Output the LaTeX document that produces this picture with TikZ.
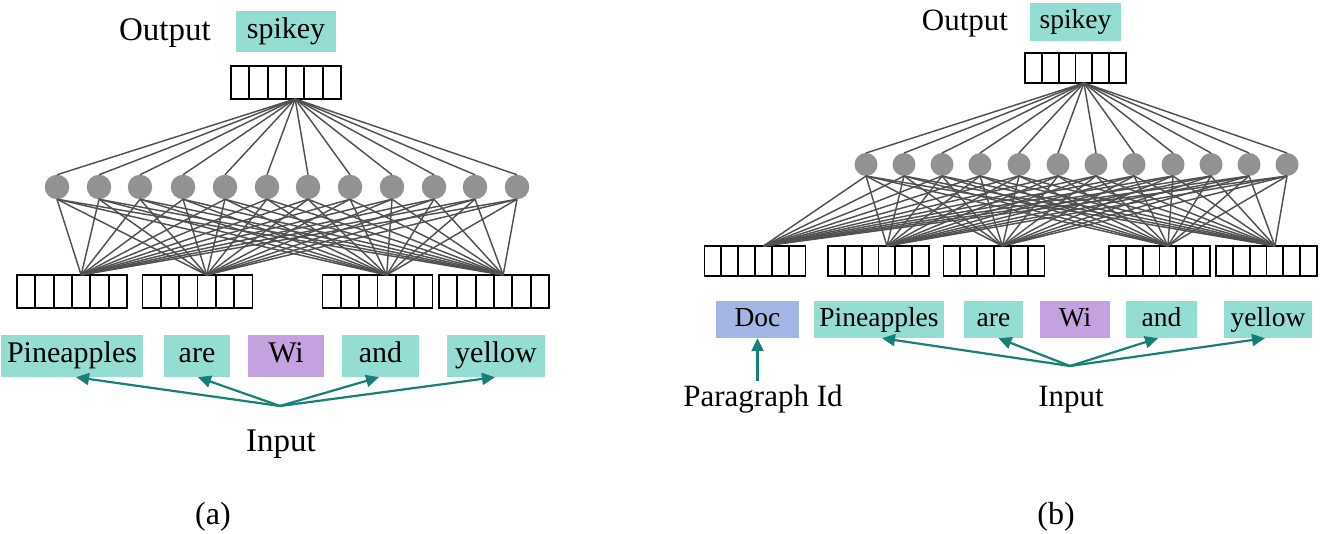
\documentclass[tikz,border=0pt]{standalone}
\usepackage{fontspec}
\setmainfont{Liberation Serif}
\usetikzlibrary{arrows.meta,calc}
\definecolor{tealbox}{RGB}{147,221,211}
\definecolor{purplebox}{RGB}{196,162,224}
\definecolor{docbox}{RGB}{163,181,227}
\definecolor{arrowteal}{RGB}{22,128,118}
\definecolor{neuroncol}{RGB}{146,146,146}
\definecolor{wirecol}{RGB}{80,80,80}
\begin{document}
\begin{tikzpicture}[x=1pt,y=-1pt,
  veca/.style={draw, line width=1.8pt, minimum width=110pt, minimum height=33pt, inner sep=0pt, outer sep=0pt},
  vecb/.style={draw, line width=1.8pt, minimum width=101pt, minimum height=30pt, inner sep=0pt, outer sep=0pt},
  cell/.style={line width=1.8pt},
  neurona/.style={circle, fill=neuroncol, minimum size=24.5pt, inner sep=0pt, outer sep=0pt},
  neuronb/.style={circle, fill=neuroncol, minimum size=23pt, inner sep=0pt, outer sep=0pt},
  wire/.style={draw=wirecol, line width=1.45pt},
  worda/.style={fill=tealbox, inner sep=0pt, minimum height=42pt, text height=21pt, text depth=7.5pt, font=\fontsize{30}{36}\selectfont},
  wordb/.style={fill=tealbox, inner sep=0pt, minimum height=37pt, text height=19.8pt, text depth=6pt, font=\fontsize{27.5}{33}\selectfont},
  labela/.style={inner sep=0pt, font=\fontsize{33}{40}\selectfont},
  labelb/.style={inner sep=0pt, font=\fontsize{31}{37}\selectfont},
  inarrow/.style={draw=arrowteal, line width=2.2pt, -{Triangle[length=13pt,width=12pt]}}
]
\useasboundingbox (0,0) rectangle (1321,534);

% ================= panel (a) =================
\node[labela, anchor=base] (outa) at (165,41) {Output};
\node[worda, minimum width=100pt, minimum height=41pt] (spa) at (286,31.5) {spikey};
\node[veca] (ta) at (286,82.5) {};
\node[veca] (a1) at (72,291.5) {};
\node[veca] (a2) at (197.5,291.5) {};
\node[veca] (a3) at (377.5,291.5) {};
\node[veca] (a4) at (494,291.5) {};
\foreach \v in {ta,a1,a2,a3,a4} {
  \foreach \i in {1,...,5}
    \draw[cell] ($(\v.north west)!\i/6!(\v.north east)$) -- ($(\v.south west)!\i/6!(\v.south east)$);
}
\coordinate (ta-c) at ($(ta.south west)!3.5/6!(ta.south east)$);
\foreach \v in {a1,a2,a3,a4}
  \coordinate (\v-c) at ($(\v.north west)!3.5/6!(\v.north east)$);

\foreach \x [count=\k] in {57,99,140,183,225,267,308,350,392,434,475,517}
  \node[neurona] (na\k) at (\x,187) {};
\foreach \k in {1,...,12} {
  \draw[wire] (na\k.north) -- (ta-c);
  \foreach \v in {a1,a2,a3,a4}
    \draw[wire] (na\k.south) -- (\v-c);
}

\node[worda, minimum width=142pt] (pa) at (72,356) {Pineapples};
\node[worda, minimum width=66pt] (ara) at (197,356) {are};
\node[worda, minimum width=76pt, fill=purplebox] (wia) at (286,356) {Wi};
\node[worda, minimum width=77pt] (anda) at (380.5,356) {and};
\node[worda, minimum width=98pt] (yea) at (496,356) {yellow};

\coordinate (ia) at (280,406);
\draw[inarrow] (ia) -- ($(pa.south)+(4,0)$);
\draw[inarrow] (ia) -- ($(ara.south)+(1,0)$);
\draw[inarrow] (ia) -- ($(anda.south)+(-1.5,0)$);
\draw[inarrow] (ia) -- ($(yea.south)+(-1,0)$);
\node[labela, anchor=base] (inpa) at (281,451) {Input};

\node[labela, font=\fontsize{32}{38}\selectfont] (capa) at (213,517) {(a)};

% ================= panel (b) =================
\node[labelb, anchor=base] (outb) at (965,31) {Output};
\node[wordb, minimum width=91pt, minimum height=38pt] (spb) at (1075.5,22) {spikey};
\node[vecb] (tb) at (1075.5,68) {};
\node[vecb] (b1) at (755,261) {};
\node[vecb] (b2) at (878.5,261) {};
\node[vecb] (b3) at (994,261) {};
\node[vecb] (b4) at (1159.5,261) {};
\node[vecb] (b5) at (1266.5,261) {};
\foreach \v in {tb,b1,b2,b3,b4,b5} {
  \foreach \i in {1,...,5}
    \draw[cell] ($(\v.north west)!\i/6!(\v.north east)$) -- ($(\v.south west)!\i/6!(\v.south east)$);
}
\coordinate (tb-c) at ($(tb.south west)!3.5/6!(tb.south east)$);
\foreach \v in {b1,b2,b3,b4,b5}
  \coordinate (\v-c) at ($(\v.north west)!3.5/6!(\v.north east)$);

\foreach \x [count=\k] in {866,904,942,980,1019,1058,1096,1134,1173,1211,1249,1287}
  \node[neuronb] (nb\k) at (\x,164.5) {};
\foreach \k in {1,...,12} {
  \draw[wire] (nb\k.north) -- (tb-c);
  \foreach \v in {b1,b2,b3,b4,b5}
    \draw[wire] (nb\k.south) -- (\v-c);
}

\node[wordb, minimum width=83pt, fill=docbox] (doc) at (757.5,319.5) {Doc};
\node[wordb, minimum width=130pt] (pb) at (879,319.5) {Pineapples};
\node[wordb, minimum width=59pt] (arb) at (993.5,319.5) {are};
\node[wordb, minimum width=70pt, fill=purplebox] (wib) at (1075,319.5) {Wi};
\node[wordb, minimum width=71pt] (andb) at (1161.5,319.5) {and};
\node[wordb, minimum width=88pt] (yeb) at (1268,319.5) {yellow};

\coordinate (ib) at (1070,366);
\draw[inarrow] (ib) -- ($(pb.south)+(3,0)$);
\draw[inarrow] (ib) -- ($(arb.south)+(5,0)$);
\draw[inarrow] (ib) -- ($(andb.south)+(-3.5,0)$);
\draw[inarrow] (ib) -- ($(yeb.south)+(-3,0)$);
\node[labelb, anchor=base] (inpb) at (1071,406) {Input};

\node[labelb, anchor=base] (pid) at (763,406) {Paragraph Id};
\draw[inarrow] ($(pid.north -| doc.south)+(0,-3)$) -- (doc.south);

\node[labela, font=\fontsize{32}{38}\selectfont] (capb) at (1056,517) {(b)};
\end{tikzpicture}
\end{document}
